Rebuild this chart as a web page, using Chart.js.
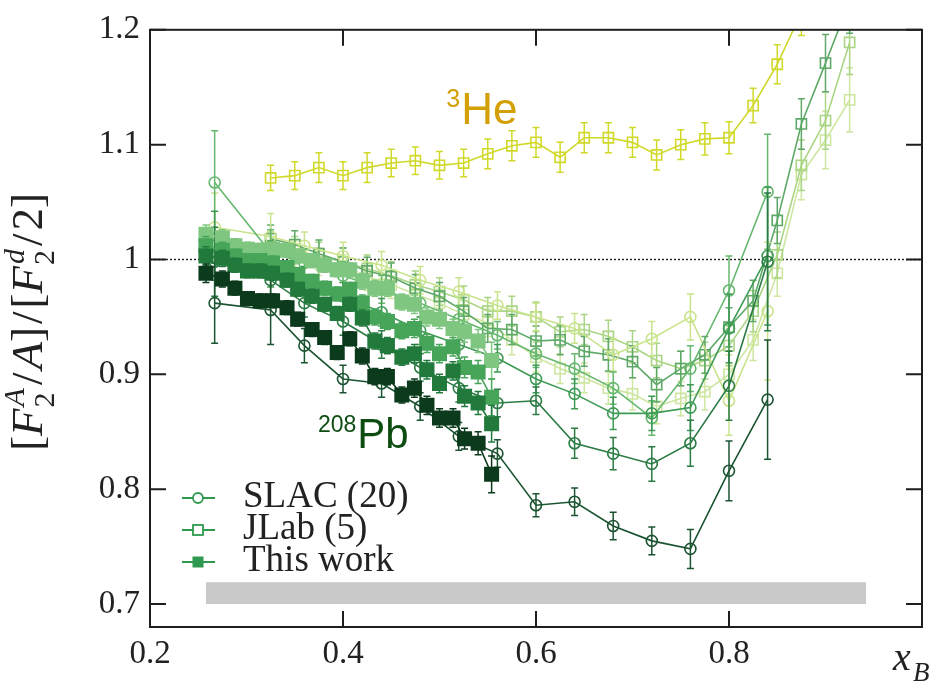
<!DOCTYPE html>
<html><head><meta charset="utf-8">
<script src="https://cdn.jsdelivr.net/npm/chart.js@4.4.1/dist/chart.umd.min.js"></script>
<style>html,body{margin:0;padding:0;background:#fff}#wrap{width:944px;height:683px;position:relative}</style>
</head><body><div id="wrap"><canvas id="c"></canvas></div>
<script>
// ---------- axis ticks ----------
const xTickVals = [0.2, 0.4, 0.6, 0.8];
const yTickVals = [0.7, 0.8, 0.9, 1.0, 1.1, 1.2];
const yTickLabels = ['0.7', '0.8', '0.9', '1', '1.1', '1.2'];

// ---------- This work (filled squares) ----------
const xThis = [0.258,0.275,0.288,0.301,0.314,0.327,0.342,0.353,0.368,0.381,0.394,0.407,0.420,0.433,0.446,0.461,0.474,0.487,0.500,0.514,0.526,0.540,0.554];
const thisC  = [1.022,1.019,1.012,1.009,1.008,1.009,1.008,1.003,0.999,0.995,0.991,0.991,0.981,0.975,0.975,0.963,0.961,0.950,0.948,0.940,0.937,0.929,0.912];
const thisAl = [1.012,1.008,1.003,0.999,0.999,0.997,0.993,0.987,0.981,0.975,0.970,0.974,0.962,0.950,0.946,0.938,0.940,0.927,0.918,0.924,0.906,0.902,0.880];
const thisFe = [1.003,1.001,0.995,0.990,0.990,0.988,0.982,0.974,0.968,0.961,0.953,0.961,0.949,0.929,0.925,0.915,0.918,0.904,0.892,0.903,0.881,0.875,0.857];
const thisPb = [0.988,0.983,0.975,0.966,0.964,0.964,0.958,0.948,0.939,0.932,0.919,0.931,0.916,0.898,0.898,0.882,0.888,0.873,0.862,0.862,0.844,0.840,0.813];
const errThis = [0.008,0.007,0.006,0.006,0.006,0.006,0.006,0.006,0.006,0.006,0.006,0.006,0.007,0.007,0.007,0.007,0.008,0.008,0.008,0.008,0.009,0.010,0.016];

// ---------- SLAC (open circles) ----------
const xSlac = [0.267,0.325,0.36,0.40,0.44,0.48,0.52,0.56,0.60,0.64,0.68,0.72,0.76,0.80,0.84];
const slacPale  = [1.028,1.020,1.012,1.003,0.995,0.982,0.972,0.960,0.950,0.940,0.917,0.931,0.950,0.877,0.955];
const slacLight = [1.067,1.006,0.997,0.986,0.974,0.962,0.948,0.934,0.918,0.905,0.888,0.862,0.905,0.973,1.059];
const slacMid   = [1.012,0.996,0.982,0.968,0.954,0.938,0.926,0.914,0.896,0.883,0.866,0.866,0.871,0.940,1.003];
const slacDeep  = [0.998,0.982,0.962,0.946,0.926,0.906,0.888,0.875,0.877,0.840,0.831,0.822,0.840,0.890,0.998];
const slacAu    = [0.962,0.956,0.925,0.896,0.892,0.872,0.846,0.831,0.786,0.789,0.768,0.755,0.748,0.816,0.878];
const errSlac      = [0.030,0.020,0.012,0.012,0.012,0.012,0.012,0.012,0.012,0.013,0.014,0.015,0.020,0.030,0.060];
const errSlacLight = [0.045,0.020,0.012,0.012,0.012,0.012,0.012,0.012,0.012,0.013,0.014,0.015,0.020,0.030,0.050];
const errSlacAu    = [0.035,0.030,0.015,0.012,0.012,0.012,0.012,0.012,0.010,0.012,0.012,0.012,0.017,0.026,0.052];

// ---------- JLab (open squares) ----------
const xJlab = [0.325,0.35,0.375,0.40,0.425,0.45,0.475,0.50,0.525,0.55,0.575,0.60,0.625,0.65,0.675,0.70,0.725,0.75,0.775,0.80,0.825,0.85,0.875,0.90,0.925];
const jlabHe3 = [1.071,1.073,1.080,1.073,1.080,1.084,1.086,1.082,1.084,1.092,1.099,1.102,1.089,1.106,1.106,1.102,1.091,1.100,1.105,1.106,1.134,1.170,1.215];
const jlabMid   = [1.018,1.013,1.005,0.998,0.990,0.985,0.975,0.968,0.955,0.940,0.939,0.929,0.930,0.920,0.917,0.911,0.891,0.905,0.917,0.941,0.964,1.034,1.118,1.171,1.225];
const jlabLight = [1.012,1.008,1.003,0.998,0.992,0.986,0.978,0.972,0.965,0.955,0.955,0.950,0.937,0.939,0.933,0.924,0.912,0.905,0.912,0.925,0.955,1.004,1.082,1.121,1.189];
const jlabPale  = [1.008,1.004,0.998,0.992,0.985,0.978,0.970,0.962,0.952,0.945,0.930,0.915,0.905,0.897,0.888,0.883,0.872,0.879,0.885,0.900,0.930,0.988,1.074,1.104,1.139];
const errJlab = [0.012,0.012,0.012,0.012,0.012,0.012,0.012,0.012,0.012,0.012,0.013,0.013,0.013,0.013,0.014,0.014,0.015,0.015,0.016,0.017,0.018,0.020,0.022,0.025,0.028];
const errHe3  = [0.011,0.012,0.013,0.012,0.013,0.012,0.012,0.012,0.012,0.013,0.013,0.013,0.013,0.013,0.013,0.013,0.013,0.013,0.014,0.014,0.015,0.017,0.020];

// ---------- reference line, band, labels ----------
const refLineX = [0.2, 1.0];
const refLineY = [1.0, 1.0];
const bandX = [0.258, 0.942];
const bandY = [0.700, 0.719];
const legendLabels = ['SLAC (20)', 'JLab (5)', 'This work'];
const legendStyles = ['circle', 'openRect', 'filledRect'];
const heLabelPos = [0.507, 1.118];
const pbLabelPos = [0.374, 0.836];

const SERIF = '"Liberation Serif", "Times New Roman", serif';
const SANS = '"Liberation Sans", Arial, sans-serif';

function pts(xs, ys){ return ys.map((v,i)=>({x:xs[i], y:v})); }
function series(label, xs, ys, errs, color, kind, order){
  const filled = kind === 'filledRect';
  return {
    label, data: pts(xs, ys), errors: errs, order,
    borderColor: color, backgroundColor: filled ? color : 'rgba(255,255,255,0)',
    pointBorderColor: color, pointBackgroundColor: filled ? color : 'rgba(255,255,255,0)',
    pointStyle: kind === 'circle' ? 'circle' : 'rect',
    pointRadius: kind === 'circle' ? 5.5 : (filled ? 9.5 : 7.2),
    pointBorderWidth: 1.6, borderWidth: 1.6, tension: 0, fill: false, clip: 0
  };
}

const datasets = [
  {label:'ref', data: pts(refLineX, refLineY), borderColor:'#222', borderWidth:1.4, borderDash:[2,2], pointRadius:0, order:30, fill:false},
  series('He3', xJlab, jlabHe3, errHe3, '#d0d92a', 'openRect', 14),
  series('JLab pale', xJlab, jlabPale, errJlab, '#cde6a0', 'openRect', 13),
  series('JLab light', xJlab, jlabLight, errJlab, '#a9d584', 'openRect', 12),
  series('JLab mid', xJlab, jlabMid, errJlab, '#5ea968', 'openRect', 11),
  series('SLAC pale', xSlac, slacPale, errSlac, '#c9e48c', 'circle', 10),
  series('SLAC light', xSlac, slacLight, errSlacLight, '#66b86e', 'circle', 9),
  series('SLAC mid', xSlac, slacMid, errSlac, '#3e9a55', 'circle', 8),
  series('SLAC deep', xSlac, slacDeep, errSlac, '#2b7b44', 'circle', 7),
  series('SLAC Au', xSlac, slacAu, errSlacAu, '#1b5431', 'circle', 6),
  series('This C', xThis, thisC, errThis, '#7fc680', 'filledRect', 5),
  series('This Al', xThis, thisAl, errThis, '#47a55a', 'filledRect', 4),
  series('This Fe', xThis, thisFe, errThis, '#217a3b', 'filledRect', 3),
  series('This Pb', xThis, thisPb, errThis, '#0c3a1c', 'filledRect', 2)
];

function drawRich(ctx, parts, size, subSize){
  const f = (it, s) => (it ? 'italic ' : '') + s + 'px ' + SERIF;
  let total = 0;
  const widths = parts.map(p => {
    let w;
    if (p.t !== undefined){ ctx.font = f(p.it, size); w = ctx.measureText(p.t).width + (p.pad||0)*2; }
    else { ctx.font = f(false, subSize); const a = ctx.measureText(p.sub).width; ctx.font = f(true, subSize); const b = ctx.measureText(p.sup).width; w = Math.max(a,b) + 2; }
    total += w; return w;
  });
  let x = -total/2;
  parts.forEach((p,i) => {
    if (p.t !== undefined){ ctx.font = f(p.it, size); ctx.fillText(p.t, x + (p.pad||0), 0); }
    else {
      ctx.font = f(false, subSize); ctx.fillText(p.sub, x + 1, size*0.26);
      ctx.font = f(true, subSize); ctx.fillText(p.sup, x + 2, -size*0.40);
    }
    x += widths[i];
  });
}

const yTitleParts = [
  {t:'[', it:false}, {t:'F', it:true}, {sub:'2', sup:'A'}, {t:'/', it:false, pad:3}, {t:'A', it:true},
  {t:']', it:false}, {t:'/', it:false, pad:3}, {t:'[', it:false}, {t:'F', it:true}, {sub:'2', sup:'d'},
  {t:'/', it:false, pad:3}, {t:'2', it:false}, {t:']', it:false}
];

const decor = {
  id: 'decor',
  beforeDatasetsDraw(chart){
    const {ctx, scales:{x, y}} = chart;
    ctx.save();
    ctx.fillStyle = '#c9c9c9';
    const x0 = x.getPixelForValue(bandX[0]), x1 = x.getPixelForValue(bandX[1]);
    const y0 = y.getPixelForValue(bandY[1]), y1 = y.getPixelForValue(bandY[0]);
    ctx.fillRect(x0, y0, x1 - x0, y1 - y0);
    ctx.restore();
  },
  beforeDatasetDraw(chart, args){
    const ds = chart.data.datasets[args.index];
    if (!ds.errors) return;
    const {ctx, chartArea:ca} = chart; const y = chart.scales.y;
    ctx.save();
    ctx.beginPath(); ctx.rect(ca.left, ca.top, ca.right - ca.left, ca.bottom - ca.top); ctx.clip();
    ctx.strokeStyle = ds.borderColor; ctx.lineWidth = 1.5;
    args.meta.data.forEach((pt, i) => {
      const e = ds.errors[i]; if (e === undefined) return;
      const v = ds.data[i].y;
      const yt = y.getPixelForValue(v + e), yb = y.getPixelForValue(v - e);
      ctx.beginPath();
      ctx.moveTo(pt.x, yt); ctx.lineTo(pt.x, yb);
      ctx.moveTo(pt.x - 3.5, yt); ctx.lineTo(pt.x + 3.5, yt);
      ctx.moveTo(pt.x - 3.5, yb); ctx.lineTo(pt.x + 3.5, yb);
      ctx.stroke();
    });
    ctx.restore();
  },
  afterDraw(chart){
    const {ctx, chartArea:ca, scales:{x, y}} = chart;
    ctx.save();
    // frame
    ctx.strokeStyle = '#1e1e1e'; ctx.lineWidth = 2;
    ctx.strokeRect(ca.left, ca.top, ca.right - ca.left, ca.bottom - ca.top);
    // inward ticks
    const tl = 16;
    ctx.beginPath();
    x.ticks.forEach(t => {
      const px = x.getPixelForValue(t.value);
      if (px <= ca.left + 1 || px >= ca.right - 1) return;
      ctx.moveTo(px, ca.bottom); ctx.lineTo(px, ca.bottom - tl);
      ctx.moveTo(px, ca.top); ctx.lineTo(px, ca.top + tl);
    });
    y.ticks.forEach(t => {
      const py = y.getPixelForValue(t.value);
      ctx.moveTo(ca.left, py); ctx.lineTo(ca.left + tl, py);
      ctx.moveTo(ca.right, py); ctx.lineTo(ca.right - tl, py);
    });
    ctx.stroke();

    // legend
    const lgColor = '#2f9a4f';
    ctx.textBaseline = 'middle'; ctx.textAlign = 'left';
    legendLabels.forEach((lab, i) => {
      const ly = 498 + i * 32, mx = 198;
      ctx.strokeStyle = lgColor; ctx.fillStyle = lgColor; ctx.lineWidth = 1.8;
      ctx.beginPath(); ctx.moveTo(182, ly); ctx.lineTo(215, ly); ctx.stroke();
      const st = legendStyles[i];
      if (st === 'circle'){ ctx.fillStyle = '#fff'; ctx.beginPath(); ctx.arc(mx, ly, 5, 0, Math.PI*2); ctx.fill(); ctx.stroke(); }
      else if (st === 'openRect'){ ctx.fillStyle = '#fff'; ctx.fillRect(mx-5, ly-5, 10, 10); ctx.strokeRect(mx-5, ly-5, 10, 10); }
      else { ctx.fillRect(mx-5.5, ly-5.5, 11, 11); }
      ctx.fillStyle = '#222'; ctx.font = '37px ' + SERIF;
      ctx.fillText(lab, 243, ly - 1);
    });

    // annotations
    ctx.textBaseline = 'alphabetic';
    const hx = x.getPixelForValue(heLabelPos[0]), hy = y.getPixelForValue(heLabelPos[1]);
    ctx.fillStyle = '#d3a106';
    ctx.font = '25px ' + SANS; ctx.fillText('3', hx, hy - 17);
    ctx.font = '44px ' + SANS; ctx.fillText('He', hx + 15, hy);
    const px = x.getPixelForValue(pbLabelPos[0]), py = y.getPixelForValue(pbLabelPos[1]);
    ctx.fillStyle = '#0d4d12';
    ctx.font = '23px ' + SANS; ctx.fillText('208', px, py - 16);
    const w208 = ctx.measureText('208').width;
    ctx.font = '42px ' + SANS; ctx.fillText('Pb', px + w208 + 1, py);

    // x title
    ctx.fillStyle = '#222';
    ctx.font = 'italic 40px ' + SERIF; ctx.fillText('x', 893, 670);
    ctx.font = 'italic 27px ' + SERIF; ctx.fillText('B', 913, 681);

    // y title
    ctx.save();
    ctx.translate(42, 322); ctx.rotate(-Math.PI/2);
    ctx.fillStyle = '#222';
    drawRich(ctx, yTitleParts, 45, 30);
    ctx.restore();

    ctx.restore();
  }
};

new Chart(document.getElementById('c'), {
  type: 'line',
  data: { datasets },
  options: {
    responsive: true, maintainAspectRatio: false, animation: false,
    layout: { padding: { top: 27, right: 22, left: 0, bottom: 0 } },
    plugins: { legend: { display: false }, tooltip: { enabled: false } },
    scales: {
      x: {
        type: 'linear', min: 0.2, max: 1.0,
        afterBuildTicks: s => { s.ticks = xTickVals.map(v => ({value: v})); },
        afterFit: s => { s.height = 56; },
        grid: { display: false, drawTicks: false }, border: { display: false },
        ticks: { padding: 8, color: '#222', font: { family: SERIF, size: 33 }, callback: v => String(v) }
      },
      y: {
        type: 'linear', min: 0.68, max: 1.2,
        afterBuildTicks: s => { s.ticks = yTickVals.map(v => ({value: v})); },
        afterFit: s => { s.width = 150; },
        grid: { display: false, drawTicks: false }, border: { display: false },
        ticks: { padding: 10, color: '#222', font: { family: SERIF, size: 33 },
                 callback: (v, i) => yTickLabels[i] }
      }
    }
  },
  plugins: [decor]
});
</script></body></html>
